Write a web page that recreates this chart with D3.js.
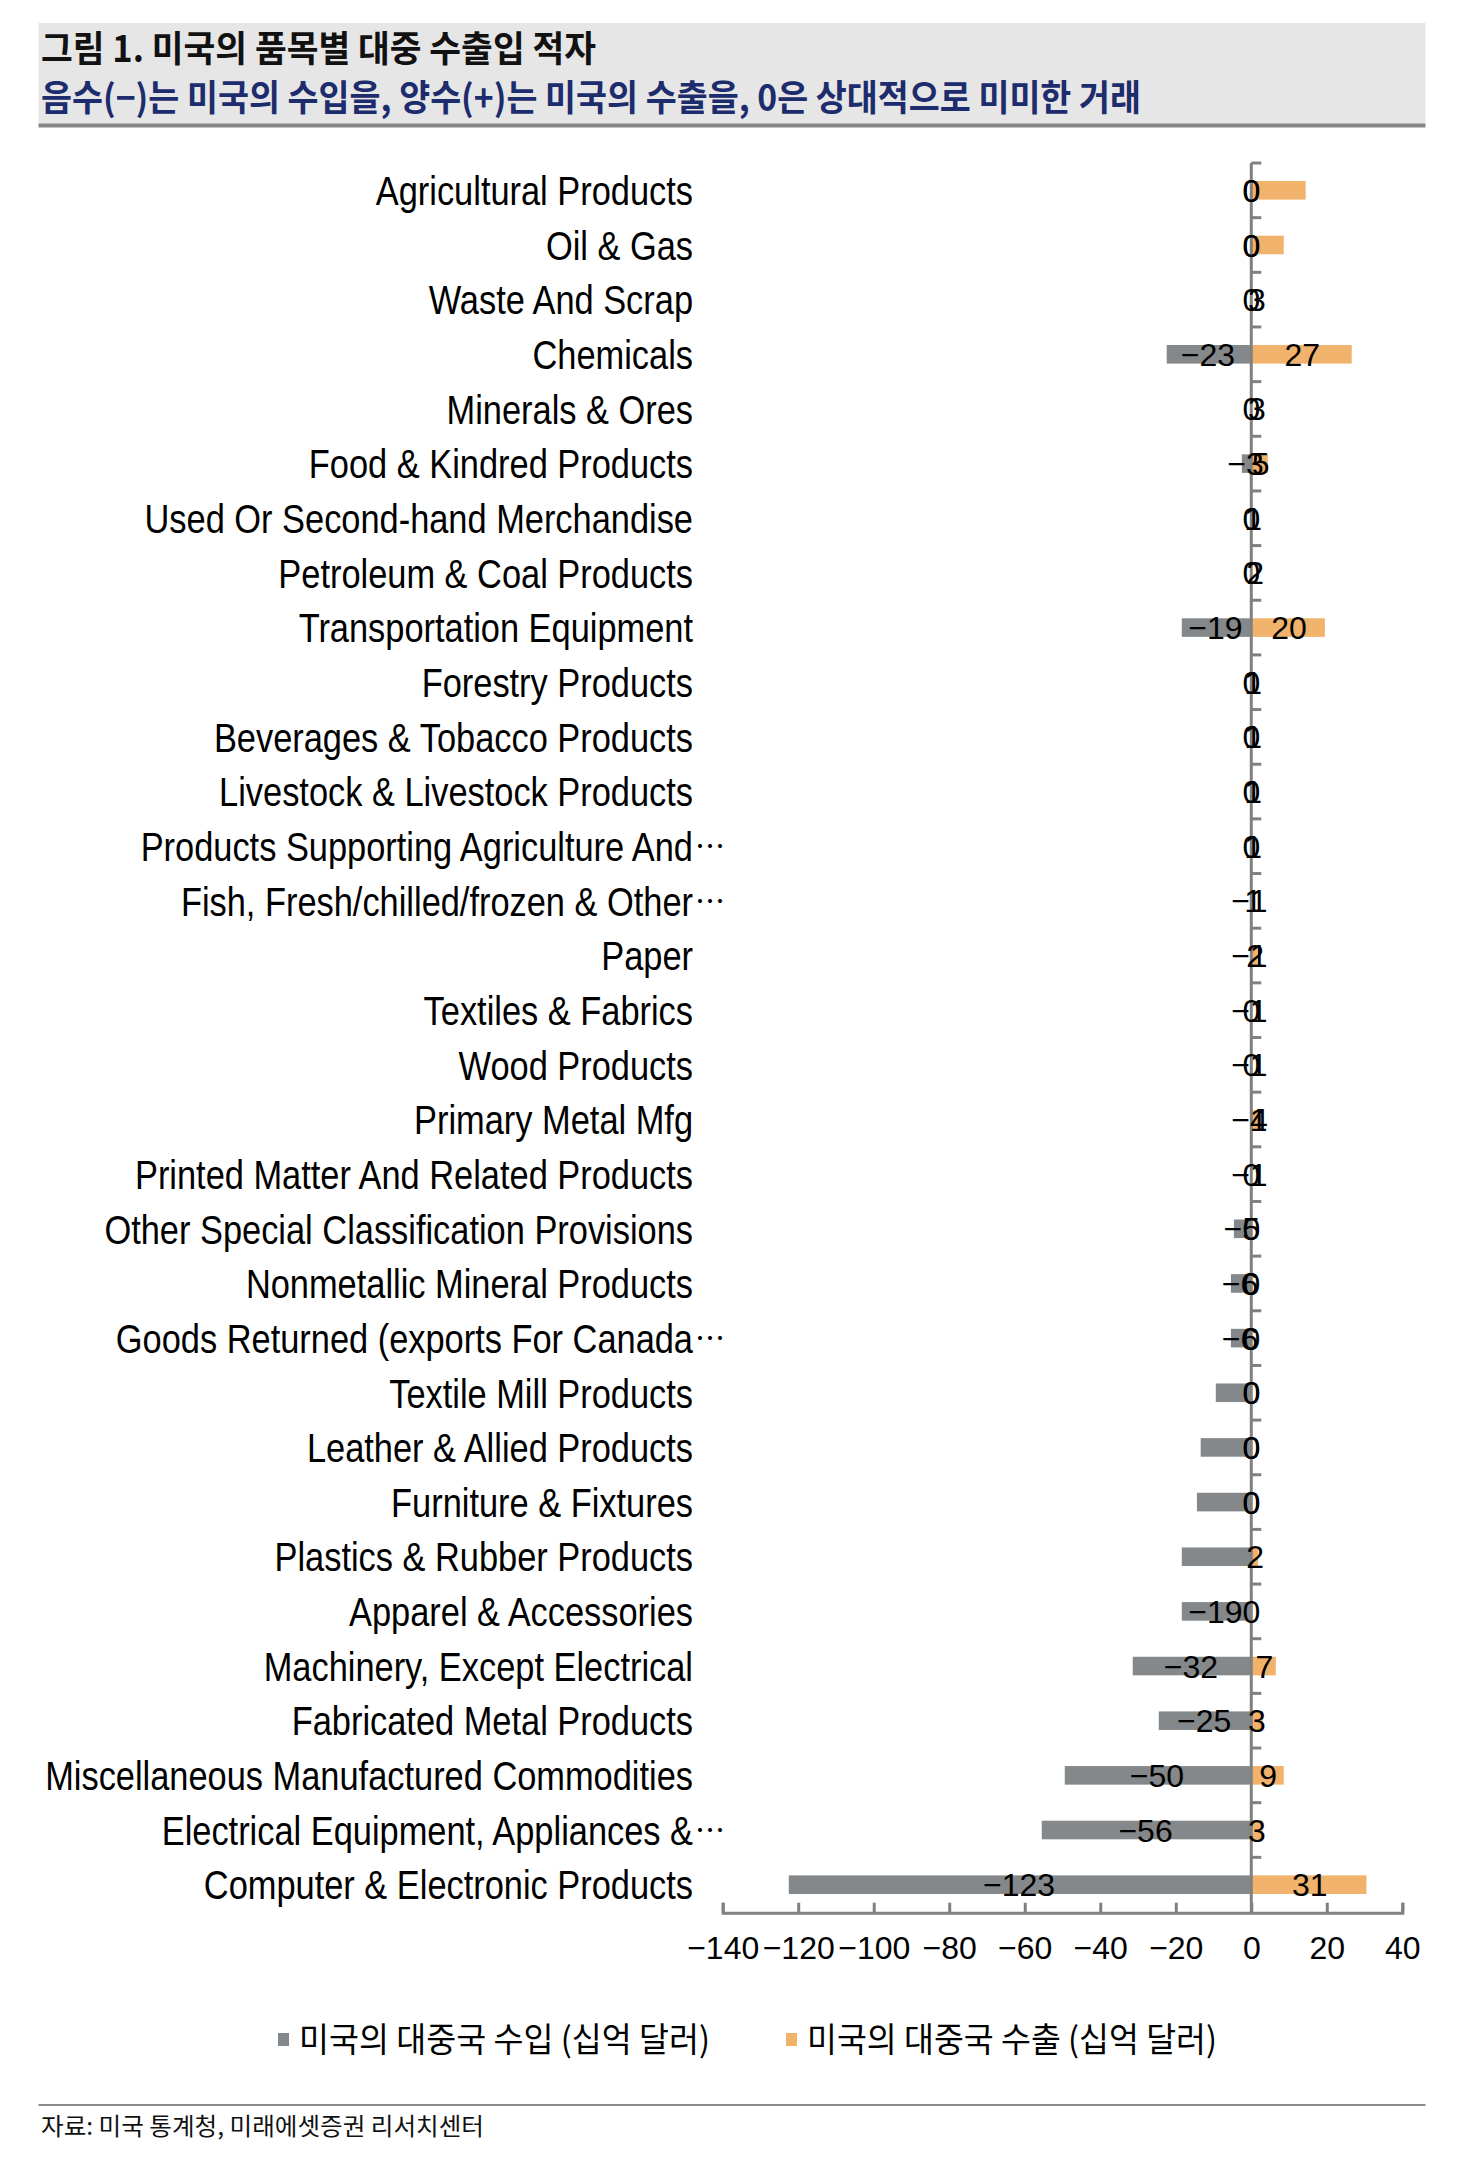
<!DOCTYPE html>
<html>
<head>
<meta charset="utf-8">
<script src="https://cdn.jsdelivr.net/npm/d3@7"></script>
<style>
  html, body { margin: 0; padding: 0; background: #fff; }
  svg { display: block; }
</style>
</head>
<body>
<svg id="chart" width="1468" height="2158"></svg>
<script>
// ---------------- data ----------------
const categories = [
  "Agricultural Products", "Oil & Gas", "Waste And Scrap", "Chemicals", "Minerals & Ores",
  "Food & Kindred Products", "Used Or Second-hand Merchandise", "Petroleum & Coal Products",
  "Transportation Equipment", "Forestry Products", "Beverages & Tobacco Products",
  "Livestock & Livestock Products", "Products Supporting Agriculture And…",
  "Fish, Fresh/chilled/frozen & Other…", "Paper", "Textiles & Fabrics", "Wood Products",
  "Primary Metal Mfg", "Printed Matter And Related Products",
  "Other Special Classification Provisions", "Nonmetallic Mineral Products",
  "Goods Returned (exports For Canada…", "Textile Mill Products", "Leather & Allied Products",
  "Furniture & Fixtures", "Plastics & Rubber Products", "Apparel & Accessories",
  "Machinery, Except Electrical", "Fabricated Metal Products",
  "Miscellaneous Manufactured Commodities", "Electrical Equipment, Appliances &…",
  "Computer & Electronic Products"
];
// bar lengths (US imports from China, negative; US exports to China, positive), billion USD
const importValues = [0, 0, 0, -22.4, 0, -2.5, 0, 0, -18.4, 0, 0, 0, 0, 0, 0, 0, 0, 0, 0,
  -4.6, -5.4, -5.4, -9.4, -13.4, -14.4, -18.4, -18.4, -31.4, -24.5, -49.4, -55.5, -122.5];
const exportValues = [14.4, 8.6, 0, 26.6, 0, 4.4, 0, 0, 19.5, 0, 0, 0, 0, 0, 1.5, 0, 0, 1.8, 0,
  0, 0, 0, 0, 0, 0, 1.8, 0, 6.5, 3, 8.6, 3, 30.5];
// data labels as printed on the chart
const importLabels = [0, 0, 0, -23, 0, -3, 0, 0, -19, 0, 0, 0, 0, -1, -1, -1, -1, -1, -1,
  -5, -6, -6, 0, 0, 0, null, -19, -32, -25, -50, -56, -123];
const exportLabels = [0, 0, 3, 27, 3, 5, 1, 2, 20, 1, 1, 1, 1, 1, 2, 0, 0, 4, 0,
  0, 0, 0, 0, 0, 0, 2, 0, 7, 3, 9, 3, 31];
const xTicks = [-140, -120, -100, -80, -60, -40, -20, 0, 20, 40];

const titleText = "그림 1. 미국의 품목별 대중 수출입 적자";
const subtitleText = "음수(−)는 미국의 수입을, 양수(+)는 미국의 수출을, 0은 상대적으로 미미한 거래";
const legendLabels = ["미국의 대중국 수입 (십억 달러)", "미국의 대중국 수출 (십억 달러)"];
const sourceText = "자료: 미국 통계청, 미래에셋증권 리서치센터";

// ---------------- styles ----------------
const COL_IMPORT = "#85888a";
const COL_EXPORT = "#f1b26b";
const COL_AXIS = "#808080";
const KR = "'Noto Sans CJK KR', 'Noto Sans', sans-serif";
const LAT = "'Liberation Sans', Arial, sans-serif";
const LABEL_SIZE = 41;
const LABEL_RIGHT = 693;
const LABEL_REF = "Miscellaneous Manufactured Commodities";
const LABEL_REF_W = 648;   // width of the widest label in the reference

const svg = d3.select("#chart");
svg.append("rect").attr("width", 1468).attr("height", 2158).attr("fill", "#fff");

// ---------------- header ----------------
svg.append("rect").attr("x", 38.5).attr("y", 23).attr("width", 1387).attr("height", 101)
  .attr("fill", "#e6e6e6");
svg.append("line").attr("x1", 38.5).attr("x2", 1425.5).attr("y1", 125.5).attr("y2", 125.5)
  .attr("stroke", "#878787").attr("stroke-width", 4);
svg.append("text").attr("x", 41).attr("y", 62)
  .attr("font-family", KR).attr("font-weight", 700).attr("font-size", 36)
  .attr("textLength", 555).attr("lengthAdjust", "spacingAndGlyphs")
  .attr("fill", "#111").text(titleText);
svg.append("text").attr("x", 41).attr("y", 111)
  .attr("font-family", KR).attr("font-weight", 700).attr("font-size", 36)
  .attr("textLength", 1100).attr("lengthAdjust", "spacingAndGlyphs")
  .attr("fill", "#1c2c6c").text(subtitleText);

// ---------------- scales ----------------
const x = d3.scaleLinear().domain([-140, 40]).range([722.7, 1402.3]);
const y = d3.scaleBand().domain(categories).range([163, 1912]).paddingInner(0.66).paddingOuter(0.33);
const bw = y.bandwidth();
const rows = categories.map((c, i) => ({
  c, imp: importValues[i], exp: exportValues[i], il: importLabels[i], el: exportLabels[i]
}));

const g = svg.append("g");

// bars
g.selectAll("rect.imp").data(rows).join("rect").attr("class", "imp")
  .attr("x", d => x(Math.min(0, d.imp))).attr("width", d => Math.abs(x(d.imp) - x(0)))
  .attr("y", d => y(d.c)).attr("height", bw).attr("fill", COL_IMPORT);
g.selectAll("rect.exp").data(rows).join("rect").attr("class", "exp")
  .attr("x", x(0)).attr("width", d => Math.abs(x(d.exp) - x(0)))
  .attr("y", d => y(d.c)).attr("height", bw).attr("fill", COL_EXPORT);

// y axis line and ticks at band boundaries
const step = y.step();
const yTop = y.range()[0];
g.append("line").attr("x1", x(0)).attr("x2", x(0)).attr("y1", yTop).attr("y2", 1913)
  .attr("stroke", COL_AXIS).attr("stroke-width", 3);
g.selectAll("line.ytick").data(d3.range(categories.length)).join("line").attr("class", "ytick")
  .attr("x1", x(0)).attr("x2", x(0) + 10)
  .attr("y1", i => yTop + i * step).attr("y2", i => yTop + i * step)
  .attr("stroke", COL_AXIS).attr("stroke-width", 3);

// x axis
const xAxis = d3.axisBottom(x).tickValues(xTicks).tickSizeInner(-10).tickSizeOuter(-10)
  .tickPadding(24).tickFormat(d3.format("d"));
const ax = svg.append("g").attr("transform", "translate(0,1912.7)").call(xAxis);
ax.select(".domain").attr("stroke", COL_AXIS).attr("stroke-width", 3);
ax.selectAll(".tick line").attr("stroke", COL_AXIS).attr("stroke-width", 3);
ax.selectAll(".tick text").attr("font-family", LAT).attr("font-size", 32).attr("fill", "#000");

// category labels: a condensed look obtained by horizontally scaling the installed font
const lab = svg.append("g").attr("font-family", LAT).attr("font-size", LABEL_SIZE).attr("fill", "#000");
const probe = lab.append("text").text(LABEL_REF);
const probeW = probe.node().getComputedTextLength();
probe.remove();
const sx = probeW > 0 ? LABEL_REF_W / probeW : 0.8;
rows.forEach(d => {
  const trunc = d.c.endsWith("…");
  const main = trunc ? d.c.slice(0, -1) : d.c;
  const cy = y(d.c) + bw / 2;
  lab.append("text")
    .attr("transform", `translate(${LABEL_RIGHT},${cy}) scale(${sx},1)`)
    .attr("dy", "0.36em").attr("text-anchor", "end").text(main);
  if (trunc) {
    lab.append("text").attr("x", LABEL_RIGHT + 2).attr("y", cy).attr("dy", "0.36em")
      .attr("font-family", KR).attr("font-size", 30).attr("text-anchor", "start").text("⋯");
  }
});

// data labels (centered at half of the labelled value)
const fmt = d3.format("d");
const dl = svg.append("g").attr("font-family", LAT).attr("font-size", 32).attr("fill", "#000")
  .attr("text-anchor", "middle");
dl.selectAll("text.il").data(rows.filter(d => d.il !== null)).join("text").attr("class", "il")
  .attr("x", d => x(d.il / 2)).attr("y", d => y(d.c) + bw / 2).attr("dy", "0.36em")
  .text(d => fmt(d.il));
dl.selectAll("text.el").data(rows).join("text").attr("class", "el")
  .attr("x", d => x(d.el / 2)).attr("y", d => y(d.c) + bw / 2).attr("dy", "0.36em")
  .text(d => fmt(d.el));

// ---------------- legend ----------------
const legendX = [278, 786];
const legendW = [411, 410];
const legendCols = [COL_IMPORT, COL_EXPORT];
const lg = svg.append("g");
legendLabels.forEach((t, i) => {
  lg.append("rect").attr("x", legendX[i]).attr("y", 2033).attr("width", 11).attr("height", 13)
    .attr("fill", legendCols[i]);
  lg.append("text").attr("x", legendX[i] + 21).attr("y", 2052)
    .attr("font-family", KR).attr("font-size", 34).attr("fill", "#000")
    .attr("textLength", legendW[i]).attr("lengthAdjust", "spacingAndGlyphs").text(t);
});

// ---------------- footer ----------------
svg.append("line").attr("x1", 38.5).attr("x2", 1425.5).attr("y1", 2105).attr("y2", 2105)
  .attr("stroke", "#8a8a8a").attr("stroke-width", 2);
svg.append("text").attr("x", 41).attr("y", 2135)
  .attr("font-family", KR).attr("font-size", 24).attr("fill", "#111")
  .attr("textLength", 443).attr("lengthAdjust", "spacingAndGlyphs").text(sourceText);
</script>
</body>
</html>
